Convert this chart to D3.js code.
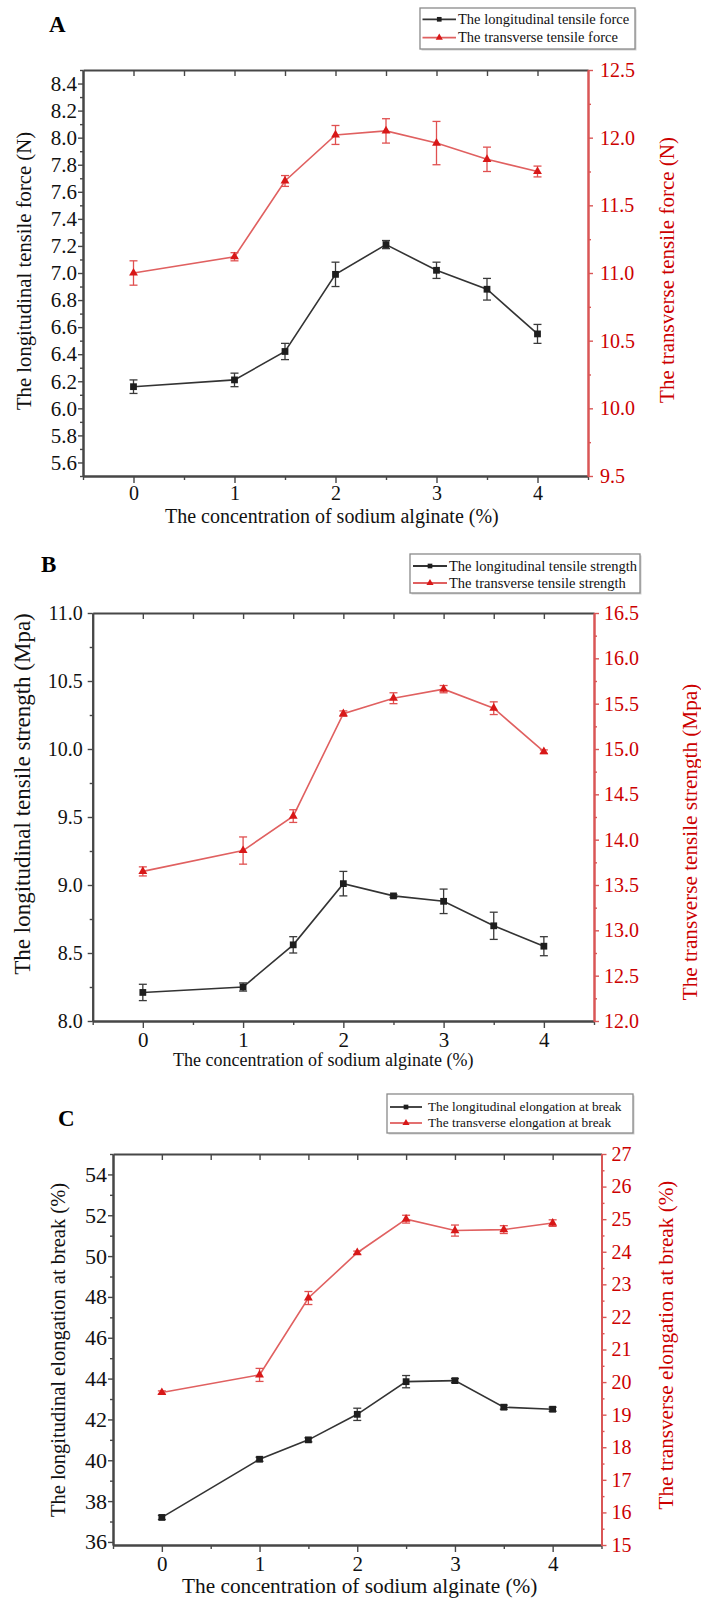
<!DOCTYPE html>
<html><head><meta charset="utf-8">
<script src="https://cdn.jsdelivr.net/npm/d3@7"></script>
<style>
body{margin:0;background:#fff}
svg{display:block}
text, .tick text{font-family:"Liberation Serif","Times New Roman",serif !important}
</style>
</head><body>
<svg id="chart" width="701" height="1598"></svg>
<script>
// ---------------- DATA ----------------
const concentration = [0, 1, 1.5, 2, 2.5, 3, 3.5, 4];
const xTickValues = [0, 1, 2, 3, 4];

// Panel A: tensile force (N)
const forceLong      = [6.16, 6.21, 6.42, 6.99, 7.21, 7.02, 6.88, 6.55];
const forceLongErr   = [0.05, 0.05, 0.06, 0.09, 0.03, 0.06, 0.08, 0.07];
const forceTrans     = [11.00, 11.12, 11.68, 12.02, 12.05, 11.96, 11.84, 11.75];
const forceTransErr  = [0.09, 0.03, 0.04, 0.07, 0.09, 0.16, 0.09, 0.04];
const forceLeftTicks  = [5.6, 5.8, 6.0, 6.2, 6.4, 6.6, 6.8, 7.0, 7.2, 7.4, 7.6, 7.8, 8.0, 8.2, 8.4];
const forceRightTicks = [9.5, 10.0, 10.5, 11.0, 11.5, 12.0, 12.5];

// Panel B: tensile strength (Mpa)
const strengthLong     = [8.21, 8.25, 8.56, 9.01, 8.92, 8.88, 8.70, 8.55];
const strengthLongErr  = [0.06, 0.03, 0.06, 0.09, 0.01, 0.09, 0.10, 0.07];
const strengthTrans    = [13.65, 13.88, 14.26, 15.39, 15.56, 15.66, 15.45, 14.97];
const strengthTransErr = [0.05, 0.15, 0.07, 0.03, 0.06, 0.04, 0.07, 0.02];
const strengthLeftTicks  = [8.0, 8.5, 9.0, 9.5, 10.0, 10.5, 11.0];
const strengthRightTicks = [12.0, 12.5, 13.0, 13.5, 14.0, 14.5, 15.0, 15.5, 16.0, 16.5];

// Panel C: elongation at break (%)
const elongLong     = [37.2, 40.05, 41.0, 42.25, 43.85, 43.9, 42.6, 42.5];
const elongLongErr  = [0.1, 0.1, 0.1, 0.3, 0.3, 0.1, 0.1, 0.1];
const elongTrans    = [19.68, 20.22, 22.58, 23.97, 25.0, 24.65, 24.68, 24.88];
const elongTransErr = [0.05, 0.2, 0.2, 0.05, 0.12, 0.17, 0.12, 0.1];
const elongLeftTicks  = [36, 38, 40, 42, 44, 46, 48, 50, 52, 54];
const elongRightTicks = [15, 16, 17, 18, 19, 20, 21, 22, 23, 24, 25, 26, 27];

const xTitle = "The concentration of sodium alginate (%)";

// ---------------- STYLE / LAYOUT ----------------
const SERIF = '"Liberation Serif","Times New Roman",serif';
const FRAME = "#474747", BLACK = "#1e1e1e", BLINE = "#333333";
const RLINE = "#e06060", RMARK = "#d81818", RTXT = "#cc0000", RAXIS = "#d95656";

const panels = [
  {
    letter: "A", letterPos: [49, 32],
    l: 83, r: 588, t: 70, b: 476,
    yLDomain: [5.5, 8.5], yRDomain: [9.5, 12.5],
    leftTicks: forceLeftTicks, leftMinorStep: 0.1, leftFmt: ".1f",
    rightTicks: forceRightTicks, rightMinorStep: 0.25, rightFmt: ".1f",
    leftFont: 21, rightFont: 20, leftPad: 1, rightPad: 7, xFont: 20, xPad: 3,
    long: forceLong, longErr: forceLongErr, trans: forceTrans, transErr: forceTransErr,
    leftTitle: "The longitudinal tensile force (N)", leftTitlePos: [24, 271], leftTitleFont: 20.7,
    rightTitle: "The transverse tensile force (N)", rightTitlePos: [667, 270], rightTitleFont: 21,
    xTitleX: 165, xTitleY: 523, xTitleFont: 20,
    legend: {x: 420, y: 8, w: 215, h: 41, rows: [19.3, 37.7], lx1: 422.5, lx2: 456, tx: 458, font: 14.5,
             labels: ["The longitudinal tensile force", "The transverse tensile force"]}
  },
  {
    letter: "B", letterPos: [41, 572],
    l: 92.7, r: 594, t: 613, b: 1021,
    yLDomain: [8, 11], yRDomain: [12, 16.5],
    leftTicks: strengthLeftTicks, leftMinorStep: 0.25, leftFmt: ".1f",
    rightTicks: strengthRightTicks, rightMinorStep: 0.25, rightFmt: ".1f",
    leftFont: 20, rightFont: 20, leftPad: 5, rightPad: 5, xFont: 21, xPad: 4,
    long: strengthLong, longErr: strengthLongErr, trans: strengthTrans, transErr: strengthTransErr,
    leftTitle: "The longitudinal tensile strength (Mpa)", leftTitlePos: [22, 794], leftTitleFont: 23,
    rightTitle: "The transverse tensile strength (Mpa)", rightTitlePos: [690, 842], rightTitleFont: 21.2,
    xTitleX: 173, xTitleY: 1066, xTitleFont: 18,
    legend: {x: 410, y: 554, w: 230, h: 39, rows: [566, 583], lx1: 413, lx2: 447, tx: 449, font: 14.5,
             labels: ["The longitudinal tensile strength", "The transverse tensile strength"]}
  },
  {
    letter: "C", letterPos: [58, 1126],
    l: 113, r: 601.5, t: 1154, b: 1545,
    yLDomain: [35.85, 55], yRDomain: [15, 27],
    leftTicks: elongLeftTicks, leftMinorStep: 1, leftFmt: "d",
    rightTicks: elongRightTicks, rightMinorStep: 0.5, rightFmt: "d",
    leftFont: 22, rightFont: 20, leftPad: 1, rightPad: 5, xFont: 21, xPad: 4,
    long: elongLong, longErr: elongLongErr, trans: elongTrans, transErr: elongTransErr,
    leftTitle: "The longitudinal elongation at break (%)", leftTitlePos: [58, 1350], leftTitleFont: 20.5,
    rightTitle: "The transverse elongation at break (%)", rightTitlePos: [666, 1345], rightTitleFont: 21.2,
    xTitleX: 182, xTitleY: 1593, xTitleFont: 21.3,
    legend: {x: 387, y: 1094, w: 246, h: 39, rows: [1107, 1123], lx1: 390, lx2: 422, tx: 428, font: 13.3,
             labels: ["The longitudinal elongation at break", "The transverse elongation at break"]}
  }
];

// ---------------- DRAW ----------------
const svg = d3.select("#chart");
svg.append("rect").attr("width", 701).attr("height", 1598).attr("fill", "#fff");

function styleAxis(g, color, width, font, textColor) {
  g.attr("font-family", SERIF).attr("font-size", font);
  g.select("path.domain").attr("stroke", color).attr("stroke-width", width);
  g.selectAll(".tick line").attr("stroke", color).attr("stroke-width", 1.4);
  g.selectAll(".tick text").attr("fill", textColor || color)
    .attr("font-family", SERIF).attr("font-size", font)
    .style("font-family", SERIF).style("font-size", font + "px");
}

function drawPanel(p) {
  const g = svg.append("g");
  const x = d3.scaleLinear().domain([-0.5, 4.5]).range([p.l, p.r]);
  const yL = d3.scaleLinear().domain(p.yLDomain).range([p.b, p.t]);
  const yR = d3.scaleLinear().domain(p.yRDomain).range([p.b, p.t]);

  const xMinor = d3.range(-0.5, 4.51, 0.5).filter(v => !xTickValues.includes(v));
  const xAll = d3.range(0, 4.01, 0.5);

  // top frame with inward ticks
  const top = g.append("g").attr("transform", `translate(0,${p.t})`)
    .call(d3.axisTop(x).tickValues(xAll).tickSize(-6).tickSizeOuter(0).tickFormat(""));
  styleAxis(top, FRAME, 2, 12);

  // bottom minor ticks
  const bMin = g.append("g").attr("transform", `translate(0,${p.b})`)
    .call(d3.axisBottom(x).tickValues(xMinor).tickSize(4).tickSizeOuter(0).tickFormat(""));
  styleAxis(bMin, FRAME, 2, 12);
  // bottom major
  const bMaj = g.append("g").attr("transform", `translate(0,${p.b})`)
    .call(d3.axisBottom(x).tickValues(xTickValues).tickSize(7).tickPadding(p.xPad).tickSizeOuter(0).tickFormat(d3.format("d")));
  styleAxis(bMaj, FRAME, 2, p.xFont, "#111");

  // left minor
  const [l0, l1] = p.yLDomain;
  const lMinor = d3.range(Math.ceil(l0 / p.leftMinorStep - 1e-6) * p.leftMinorStep, l1 + 1e-6, p.leftMinorStep)
    .filter(v => !p.leftTicks.some(t => Math.abs(t - v) < 1e-6));
  const lm = g.append("g").attr("transform", `translate(${p.l},0)`)
    .call(d3.axisLeft(yL).tickValues(lMinor).tickSize(3).tickSizeOuter(0).tickFormat(""));
  styleAxis(lm, FRAME, 2, 12);
  const lM = g.append("g").attr("transform", `translate(${p.l},0)`)
    .call(d3.axisLeft(yL).tickValues(p.leftTicks).tickSize(5).tickPadding(p.leftPad).tickSizeOuter(0).tickFormat(d3.format(p.leftFmt)));
  styleAxis(lM, FRAME, 2, p.leftFont, "#111");

  // right minor
  const [r0, r1] = p.yRDomain;
  const rMinor = d3.range(r0, r1 + 1e-6, p.rightMinorStep)
    .filter(v => !p.rightTicks.some(t => Math.abs(t - v) < 1e-6));
  const rm = g.append("g").attr("transform", `translate(${p.r},0)`)
    .call(d3.axisRight(yR).tickValues(rMinor).tickSize(3).tickSizeOuter(0).tickFormat(""));
  styleAxis(rm, RAXIS, 2, 12);
  const rM = g.append("g").attr("transform", `translate(${p.r},0)`)
    .call(d3.axisRight(yR).tickValues(p.rightTicks).tickSize(5).tickPadding(p.rightPad).tickSizeOuter(0).tickFormat(d3.format(p.rightFmt)));
  styleAxis(rM, RAXIS, 2, p.rightFont, RTXT);

  // data
  const longData = concentration.map((c, i) => ({c, v: p.long[i], e: p.longErr[i]}));
  const transData = concentration.map((c, i) => ({c, v: p.trans[i], e: p.transErr[i]}));

  function series(data, y, lineColor, markColor, errColor, symbol, size) {
    const sg = g.append("g");
    sg.append("path").datum(data)
      .attr("fill", "none").attr("stroke", lineColor).attr("stroke-width", 1.6)
      .attr("d", d3.line().x(d => x(d.c)).y(d => y(d.v)));
    const eb = sg.selectAll("g.err").data(data).join("g").attr("class", "err")
      .attr("stroke", errColor).attr("stroke-width", 1.3);
    eb.append("line").attr("x1", d => x(d.c)).attr("x2", d => x(d.c))
      .attr("y1", d => y(d.v - d.e)).attr("y2", d => y(d.v + d.e));
    eb.append("line").attr("x1", d => x(d.c) - 4).attr("x2", d => x(d.c) + 4)
      .attr("y1", d => y(d.v + d.e)).attr("y2", d => y(d.v + d.e));
    eb.append("line").attr("x1", d => x(d.c) - 4).attr("x2", d => x(d.c) + 4)
      .attr("y1", d => y(d.v - d.e)).attr("y2", d => y(d.v - d.e));
    sg.selectAll("path.mk").data(data).join("path").attr("class", "mk")
      .attr("d", d3.symbol(symbol, size))
      .attr("transform", d => `translate(${x(d.c)},${y(d.v)})`)
      .attr("fill", markColor);
  }
  series(longData, yL, BLINE, BLACK, "#3a3a3a", d3.symbolSquare, 46);
  series(transData, yR, RLINE, RMARK, "#e05050", d3.symbolTriangle, 34);

  // panel letter
  g.append("text").attr("x", p.letterPos[0]).attr("y", p.letterPos[1])
    .attr("font-family", SERIF).attr("font-size", 23).attr("font-weight", "bold").attr("fill", "#000").text(p.letter);

  // axis titles
  g.append("text").attr("transform", `translate(${p.leftTitlePos[0]},${p.leftTitlePos[1]}) rotate(-90)`)
    .attr("text-anchor", "middle").attr("dy", "0.35em").attr("font-family", SERIF).attr("font-size", p.leftTitleFont)
    .attr("fill", "#111").text(p.leftTitle);
  g.append("text").attr("transform", `translate(${p.rightTitlePos[0]},${p.rightTitlePos[1]}) rotate(-90)`)
    .attr("text-anchor", "middle").attr("dy", "0.35em").attr("font-family", SERIF).attr("font-size", p.rightTitleFont)
    .attr("fill", RTXT).text(p.rightTitle);
  g.append("text").attr("x", p.xTitleX).attr("y", p.xTitleY)
    .attr("font-family", SERIF).attr("font-size", p.xTitleFont).attr("fill", "#111").text(xTitle);

  // legend
  const L = p.legend;
  g.append("rect").attr("x", L.x + 1.5).attr("y", L.y + 1.5).attr("width", L.w).attr("height", L.h)
    .attr("fill", "#d0d0d0");
  g.append("rect").attr("x", L.x).attr("y", L.y).attr("width", L.w).attr("height", L.h)
    .attr("fill", "#fff").attr("stroke", "#8a8a8a").attr("stroke-width", 1.3);
  const legItems = [
    {label: L.labels[0], line: BLINE, mark: BLACK, sym: d3.symbolSquare, size: 22},
    {label: L.labels[1], line: RLINE, mark: RMARK, sym: d3.symbolTriangle, size: 22}
  ];
  legItems.forEach((it, i) => {
    const yy = L.rows[i];
    g.append("line").attr("x1", L.lx1).attr("x2", L.lx2).attr("y1", yy).attr("y2", yy)
      .attr("stroke", it.line).attr("stroke-width", 1.8);
    g.append("path").attr("d", d3.symbol(it.sym, it.size))
      .attr("transform", `translate(${(L.lx1 + L.lx2) / 2},${yy})`).attr("fill", it.mark);
    g.append("text").attr("x", L.tx).attr("y", yy).attr("dy", "0.33em")
      .attr("font-family", SERIF).attr("font-size", L.font).attr("fill", "#111").text(it.label);
  });
}

panels.forEach(drawPanel);
</script>
</body></html>
